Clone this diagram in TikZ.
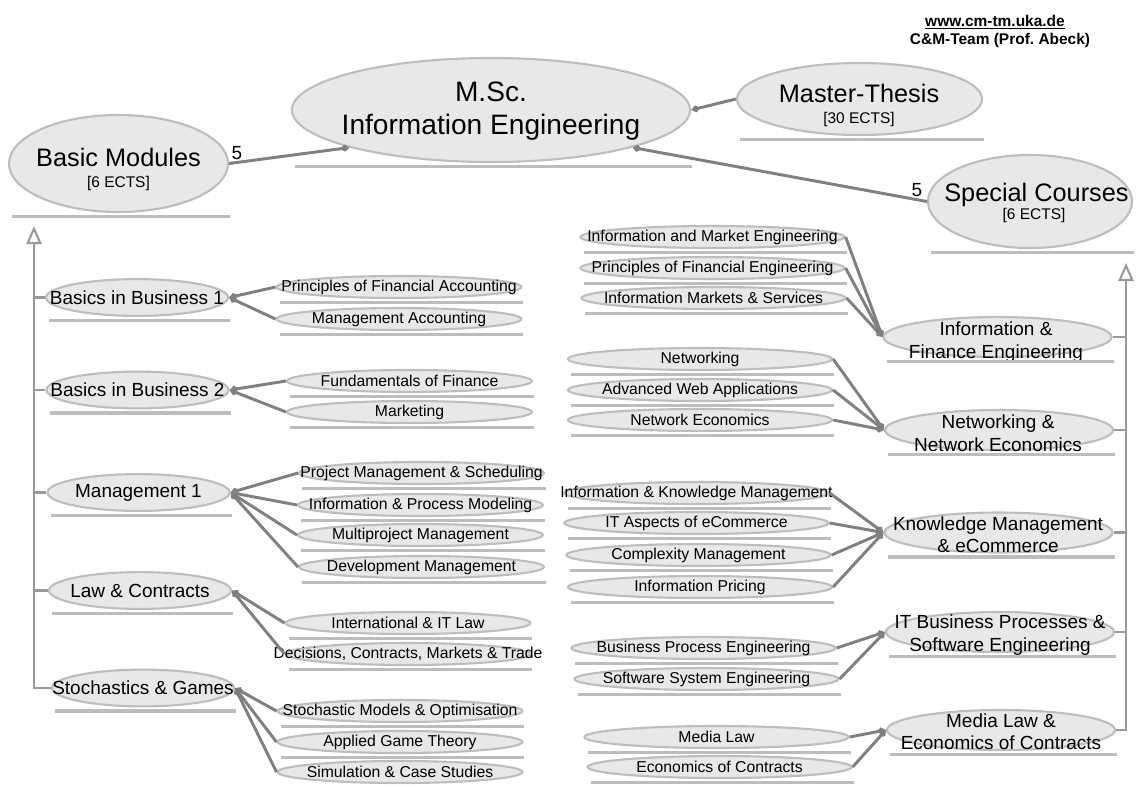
\documentclass[tikz,border=0pt]{standalone}
\usepackage{fontspec}
\setmainfont{Liberation Sans}
\usetikzlibrary{shapes.geometric,arrows.meta}
\frenchspacing

\begin{document}
\begin{tikzpicture}[x=0.025cm,y=-0.025cm,
  bubble/.style={ellipse,draw=kEdge,fill=kFill,line width=1.5pt,inner sep=0pt},
  zw/.style={execute at begin node={\hbox to 0pt\bgroup\hss},execute at end node={\hss\egroup}},
  lsub/.style={bubble,zw,minimum width=6.12cm,minimum height=0.55cm,font=\fontsize{11.2}{13}\selectfont},
  rsub/.style={bubble,zw,minimum width=6.6cm,minimum height=0.55cm,font=\fontsize{11.2}{13}\selectfont},
  lmod/.style={bubble,zw,minimum width=4.55cm,minimum height=0.92cm,font=\fontsize{13.5}{16}\selectfont},
  rmod/.style={bubble,minimum width=5.7cm,minimum height=1cm},
  modtext/.style={inner sep=0pt,align=center,font=\fontsize{13.5}{16}\selectfont},
  bigtext/.style={inner sep=0pt,align=center,font=\fontsize{18}{21}\selectfont},
  ects/.style={inner sep=0pt,font=\fontsize{11}{13}\selectfont},
  num/.style={inner sep=0pt,font=\fontsize{13.5}{16}\selectfont},
  head/.style={inner sep=0pt,font=\bfseries\fontsize{11}{13}\selectfont},
  uline/.style={draw=kEdge,line width=2.4pt},
  agg/.style={draw=kLine,line width=2.1pt,{Diamond[length=0.24cm,width=0.18cm]}-},
  gen/.style={draw=kGen,line width=1.5pt},
  genhead/.style={gen,-{Triangle[open,length=0.45cm,width=0.38cm]}}]
  % colors
  \definecolor{kEdge}{rgb}{0.74,0.74,0.74}
  \definecolor{kFill}{rgb}{0.91,0.91,0.91}
  \definecolor{kLine}{rgb}{0.50,0.50,0.50}
  \definecolor{kGen}{rgb}{0.60,0.60,0.60}
  \useasboundingbox (0,0) rectangle (1136,785);
  % header
  \node[head] (url) at (995,22) {\underline{www.cm-tm.uka.de}};
  \node[head] (team) at (1000,40.5) {C\&M-Team (Prof. Abeck)};
  % main bubbles
  \node[bubble,minimum width=9.95cm,minimum height=2.6cm] (msc) at (491,110) {};
  \node[bigtext,font=\fontsize{20}{23.4}\selectfont] (msc-t) at (491,111) {M.Sc.\\Information Engineering};
  \node[bubble,minimum width=6.125cm,minimum height=1.8cm] (mt) at (859.5,99) {};
  \node[bigtext] (mt-t) at (859,93) {Master-Thesis};
  \node[ects] (mt-e) at (859,119.5) {[30 ECTS]};
  \node[bubble,minimum width=5.475cm,minimum height=2.425cm] (bm) at (118.5,163.5) {};
  \node[bigtext] (bm-t) at (118.5,157) {Basic Modules};
  \node[ects] (bm-e) at (118.5,183) {[6 ECTS]};
  \node[bubble,minimum width=5.1cm,minimum height=2.325cm] (sc) at (1030,201.5) {};
  \node[bigtext] (sc-t) at (1036.5,194.5) {Special Courses};
  \node[ects] (sc-e) at (1034,215) {[6 ECTS]};
  \node[num] (n1) at (237,153) {5};
  \node[num] (n2) at (917,190) {5};
  % basic modules
  \node[lmod] (bb1) at (137,297.5) {Basics in Business 1};
  \node[lmod] (bb2) at (137.5,390) {Basics in Business 2};
  \node[lmod] (mg1) at (138.5,492.5) {Management 1};
  \node[lmod] (lwc) at (140,590.5) {Law \& Contracts};
  \node[lmod] (stg) at (143,688) {Stochastics \& Games};
  \node[lsub] (pfa) at (399,287) {Principles of Financial Accounting};
  \node[lsub] (mac) at (399,319) {Management Accounting};
  \node[lsub] (fof) at (409.5,381) {Fundamentals of Finance};
  \node[lsub] (mkt) at (409.5,412) {Marketing};
  \node[lsub] (pms) at (421.5,473) {Project Management \& Scheduling};
  \node[lsub] (ipm) at (420.5,505) {Information \& Process Modeling};
  \node[lsub] (mpm) at (420.5,535) {Multiproject Management};
  \node[lsub] (dvm) at (421.5,567) {Development Management};
  \node[lsub] (itl) at (408,623) {International \& IT Law};
  \node[lsub] (dcm) at (408,654) {Decisions, Contracts, Markets \& Trade};
  \node[lsub] (smo) at (400,711) {Stochastic Models \& Optimisation};
  \node[lsub] (agt) at (400,742) {Applied Game Theory};
  \node[lsub] (scs) at (400,772) {Simulation \& Case Studies};
  % special courses
  \node[rmod] (ife) at (997.5,337) {};
  \node[modtext] (ife-t) at (996,342) {Information \&\\Finance Engineering};
  \node[rmod] (nne) at (999,430) {};
  \node[modtext] (nne-t) at (998,433) {Networking \&\\Network Economics};
  \node[rmod] (kme) at (998.5,532.5) {};
  \node[modtext] (kme-t) at (998,534.5) {Knowledge Management\\\& eCommerce};
  \node[rmod] (itb) at (1000,632) {};
  \node[modtext] (itb-t) at (1000,635) {IT Business Processes \&\\Software Engineering};
  \node[rmod] (mlc) at (1001,730) {};
  \node[modtext] (mlc-t) at (1001,731.5) {Media Law \&\\Economics of Contracts};
  \node[rsub] (ime) at (712.5,237) {Information and Market Engineering};
  \node[rsub] (pfe) at (712.5,268) {Principles of Financial Engineering};
  \node[rsub] (ims) at (713.5,298) {Information Markets \& Services};
  \node[rsub] (nwk) at (700,359) {Networking};
  \node[rsub] (awa) at (700,390) {Advanced Web Applications};
  \node[rsub] (nec) at (700,420) {Network Economics};
  \node[rsub] (ikm) at (696.5,493) {Information \& Knowledge Management};
  \node[rsub] (ite) at (696.5,523) {IT Aspects of eCommerce};
  \node[rsub] (cxm) at (698.5,555) {Complexity Management};
  \node[rsub] (ipr) at (700,587) {Information Pricing};
  \node[rsub] (bpe) at (703.5,648) {Business Process Engineering};
  \node[rsub] (sse) at (706.5,679) {Software System Engineering};
  \node[rsub] (mdl) at (716.5,737) {Media Law};
  \node[rsub] (eoc) at (719.5,767) {Economics of Contracts};
  % underlines
  \foreach \n in {bm,msc,mt,sc,bb1,bb2,mg1,lwc,stg,pfa,mac,fof,mkt,pms,ipm,mpm,dvm,itl,dcm,smo,agt,scs,
                  ife,nne,kme,itb,mlc,ime,pfe,ims,nwk,awa,nec,ikm,ite,cxm,ipr,bpe,sse,mdl,eoc}
    \draw[uline] ([xshift=3pt,yshift=-2.5pt]\n.south -| \n.west) -- ([xshift=0.7pt,yshift=-2.5pt]\n.south -| \n.east);
  % generalisation
  \coordinate (ltop) at (34,226);
  \coordinate (rtop) at (1126,263);
  \draw[genhead] (stg.west) -| (ltop);
  \foreach \m in {bb1,bb2,mg1,lwc} \draw[gen] (\m.west) -- (\m.west -| ltop);
  \draw[genhead] (mlc.east) -| (rtop);
  \foreach \m in {ife,nne,kme,itb} \draw[gen] (\m.east) -- (\m.east -| rtop);
  % aggregation
  \draw[agg] (msc.south west) -- (bm.east);
  \draw[agg] (msc.east) -- (mt.west);
  \draw[agg] (msc.south east) -- (sc.west);
  \foreach \c in {pfa,mac} \draw[agg] (bb1.east) -- (\c.west);
  \foreach \c in {fof,mkt} \draw[agg] (bb2.east) -- (\c.west);
  \foreach \c in {pms,ipm,mpm,dvm} \draw[agg] (mg1.east) -- (\c.west);
  \foreach \c in {itl,dcm} \draw[agg] (lwc.east) -- (\c.west);
  \foreach \c in {smo,agt,scs} \draw[agg] (stg.east) -- (\c.west);
  \foreach \c in {ime,pfe,ims} \draw[agg] (ife.west) -- (\c.east);
  \foreach \c in {nwk,awa,nec} \draw[agg] (nne.west) -- (\c.east);
  \foreach \c in {ikm,ite,cxm,ipr} \draw[agg] (kme.west) -- (\c.east);
  \foreach \c in {bpe,sse} \draw[agg] (itb.west) -- (\c.east);
  \foreach \c in {mdl,eoc} \draw[agg] (mlc.west) -- (\c.east);
\end{tikzpicture}
\end{document}
